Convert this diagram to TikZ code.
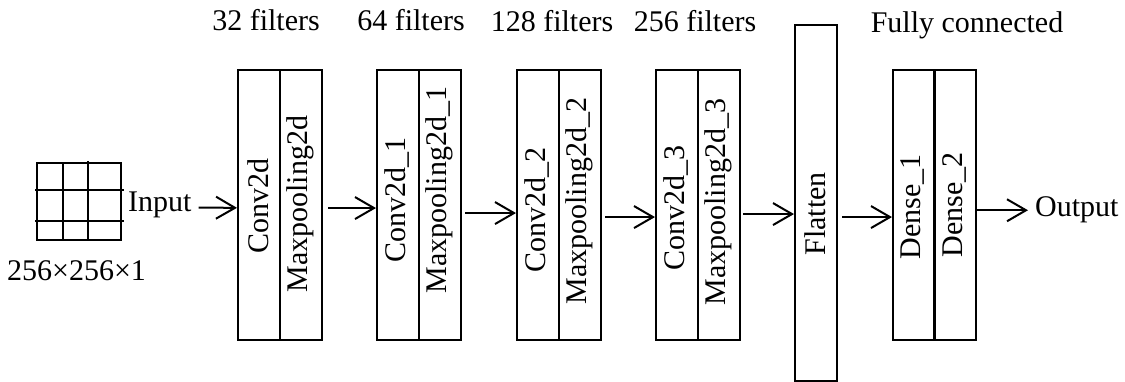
\documentclass[tikz,border=0pt]{standalone}
\usepackage{fontspec}
\setmainfont{Liberation Serif}
\usetikzlibrary{arrows.meta}
\begin{document}
\begin{tikzpicture}[x=1pt,y=-1pt,
  half/.style={draw, line width=2.1pt, minimum height=270pt, minimum width=42pt, inner sep=0pt, anchor=north west},
  lbl/.style={font=\fontsize{30}{36}\selectfont, inner sep=0pt},
  vlbl/.style={lbl, rotate=90},
  arr/.style={line width=2pt, -{Straight Barb[length=19pt,width=22pt,line width=2pt]}},
  gridline/.style={line width=2pt}]
\useasboundingbox (0,0) rectangle (1125,382);

% input grid
\draw[gridline] (37,163) rectangle (121,240);
\draw[gridline] (63,163) -- (63,240);
\draw[gridline] (88,161) -- (88,240);
\draw[gridline] (35,190) -- (124,190);
\draw[gridline] (35,221) -- (124,221);
\node[lbl, anchor=base west] (inp) at (128,211.7) {Input};
\node[lbl, anchor=base] (dim) at (76.5,280) {256×256×1};

% layer boxes
\node[half] (c1) at (237,69.3) {};
\node[half] (m1) at (279,69.3) {};
\node[half] (c2) at (376,69.3) {};
\node[half] (m2) at (418,69.3) {};
\node[half] (c3) at (516,69.3) {};
\node[half] (m3) at (558,69.3) {};
\node[half] (c4) at (655,69.3) {};
\node[half] (m4) at (697,69.3) {};
\node[half, minimum height=356pt] (fl) at (794,24) {};
\node[half] (d1) at (892,69.3) {};
\node[half] (d2) at (933,69.3) {};

% rotated labels
\node[vlbl] (tc1) at (258,206) {Conv2d};
\node[vlbl] (tm1) at (300,204) {Maxpooling2d};
\node[vlbl] (tc2) at (397,200) {Conv2d\_1};
\node[vlbl] (tm2) at (439,190) {Maxpooling2d\_1};
\node[vlbl] (tc3) at (537,210) {Conv2d\_2};
\node[vlbl] (tm3) at (579,201) {Maxpooling2d\_2};
\node[vlbl] (tc4) at (676,208) {Conv2d\_3};
\node[vlbl] (tm4) at (718,202) {Maxpooling2d\_3};
\node[vlbl] (tfl) at (815,214) {Flatten};
\node[vlbl] (td1) at (913,207) {Dense\_1};
\node[vlbl] (td2) at (954,205) {Dense\_2};

% top labels
\node[lbl, anchor=base] (f1) at (266,31) {32 filters};
\node[lbl, anchor=base] (f2) at (411,31) {64 filters};
\node[lbl, anchor=base] (f3) at (552,32) {128 filters};
\node[lbl, anchor=base] (f4) at (695,32) {256 filters};
\node[lbl, anchor=base] (fc) at (967,33) {Fully connected};

% output
\node[lbl, anchor=base west] (out) at (1035,217) {Output};

% arrows
\draw[arr] ([xshift=7pt,yshift=-2.5pt]inp.east) -- ([yshift=-2.5pt]c1.west);
\draw[arr] ([xshift=5pt,yshift=-2.7pt]m1.east) -- ([yshift=-2.7pt]c2.west);
\draw[arr] ([xshift=3pt,yshift=-7.7pt]m2.east) -- ([yshift=-7.7pt]c3.west);
\draw[arr] ([xshift=3pt,yshift=-11.7pt]m3.east) -- ([yshift=-11.7pt]c4.west);
\draw[arr] ([xshift=2pt,yshift=-8.7pt]m4.east) -- ([yshift=-11pt]fl.west);
\draw[arr] ([xshift=4pt,yshift=-14pt]fl.east) -- ([yshift=-11.7pt]d1.west);
\draw[arr] (d2.east |- out.west) -- ([xshift=-7pt]out.west);
\end{tikzpicture}
\end{document}
